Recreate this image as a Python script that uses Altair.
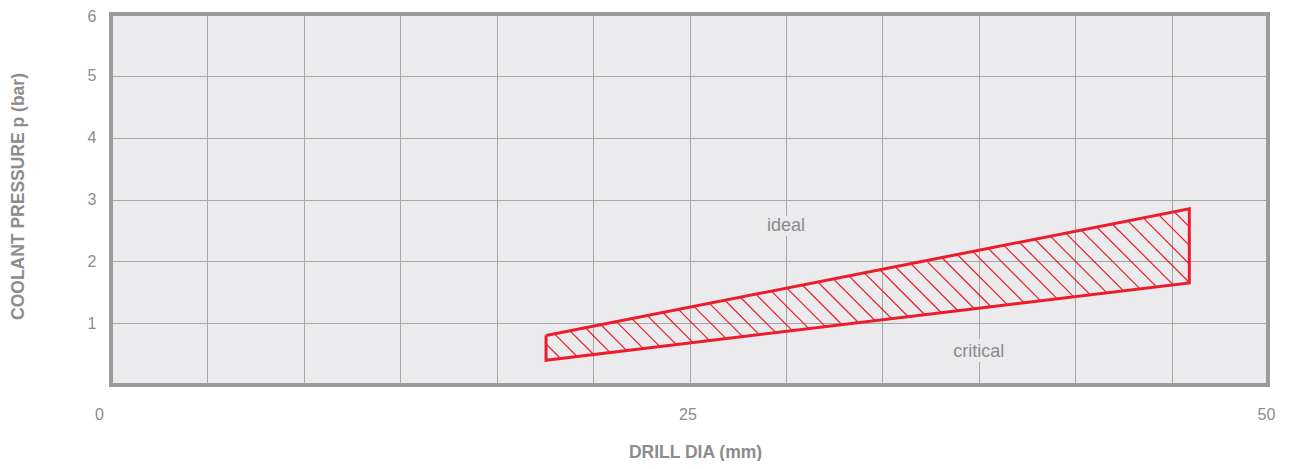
import altair as alt
import pandas as pd

# ---- data ----
x_tick_labels = [0, 25, 50]
y_tick_labels = [1, 2, 3, 4, 5, 6]
x_domain = [0, 50]
y_domain = [0, 6]
x_grid_divisions = 12

band_x = [18.8, 46.6]          # drill diameter (mm) at left / right end of band
band_upper = [0.8, 2.85]       # upper limit (bar)
band_lower = [0.4, 1.65]       # lower limit (bar)

region_labels = ["ideal", "critical"]
region_label_x = [29.17, 37.5]
region_label_y = [2.57, 0.53]

# ---- styles ----
RED = "#ec1c2d"
BG = "#ebebed"
GRID = "#a6a6a6"
BORDER = "#9b9b9b"
TEXT = "#8c8c8c"
FONT = "Liberation Sans"
HATCH_SLOPE = -0.3743   # data-space slope of the hatch lines (45 deg on screen)
HATCH_STEP = 0.30       # spacing of hatch lines (in intercept units)
HATCH_ANCHOR = 20.0

# ---- derived tables ----
x0, x1 = band_x
u0, u1 = band_upper
l0, l1 = band_lower
outline = pd.DataFrame({
    "x": [x0, x1, x1, x0, x0],
    "y": [u0, u1, l1, l0, u0],
    "o": [0, 1, 2, 3, 4],
})

st = (u1 - u0) / (x1 - x0)
sb = (l1 - l0) / (x1 - x0)
m = HATCH_SLOPE
c_min = l0 - m * x0
c_max = u1 - m * x1
c = HATCH_ANCHOR
while c > c_min:
    c -= HATCH_STEP
cs = []
while c < c_max:
    cs.append(c)
    c += HATCH_STEP
rows = []
for c in cs:
    xa = (c - u0 + st * x0) / (st - m)
    xb = (c - l0 + sb * x0) / (sb - m)
    xs = max(x0, xa)
    xe = min(x1, xb)
    if xe - xs > 1e-6:
        rows.append({"x": xs, "y": c + m * xs, "x2": xe, "y2": c + m * xe})
hatch = pd.DataFrame(rows)

labels_df = pd.DataFrame({"t": region_labels, "x": region_label_x, "y": region_label_y})
frame = pd.DataFrame({"x": [x_domain[0]], "x2": [x_domain[1]], "y": [y_domain[0]], "y2": [y_domain[1]]})

x_grid_values = [x_domain[1] * i / x_grid_divisions for i in range(x_grid_divisions + 1)]
y_grid_values = list(range(y_domain[0], y_domain[1] + 1))

xscale = alt.Scale(domain=x_domain, nice=False, zero=False)
yscale = alt.Scale(domain=y_domain, nice=False, zero=False)

label_test = " || ".join(f"abs(datum.value - {v}) < 0.01" for v in x_tick_labels)

x_axis = alt.Axis(
    values=x_grid_values,
    title="DRILL DIA (mm)",
    labelExpr=f"({label_test}) ? format(datum.value, 'd') : ''",
    labelOverlap=False, labelFlush=False,
    labelFont=FONT, labelFontSize=16, labelColor=TEXT,
    labelBaseline="middle", labelPadding=29,
    labelOffset={"condition": {"test": "datum.value == 0", "value": -12}, "value": -2},
    ticks=False, tickSize=0, domain=False,
    grid=True, gridColor=GRID, gridWidth=1,
    titleFont=FONT, titleFontSize=17.5, titleFontWeight="bold", titleColor=TEXT,
    titleX=584, titleY=67, titleAlign="center", titleBaseline="middle",
)
y_axis = alt.Axis(
    values=y_grid_values,
    title="COOLANT PRESSURE p (bar)",
    labelExpr="datum.value == 0 ? '' : format(datum.value, 'd')",
    labelOverlap=False, labelFlush=False,
    labelFont=FONT, labelFontSize=16, labelColor=TEXT,
    labelBaseline="middle", labelPadding=15,
    labelOffset={"condition": {"test": "datum.value == 6", "value": 2}, "value": 0},
    ticks=False, tickSize=0, domain=False,
    grid=True, gridColor=GRID, gridWidth=1,
    titleFont=FONT, titleFontSize=17.5, titleFontWeight="bold", titleColor=TEXT,
    titleX=-93, titleY=182, titleAngle=270, titleAlign="center", titleBaseline="middle",
)

base_axes = alt.Chart(frame).mark_rect(opacity=0).encode(
    x=alt.X("x:Q", scale=xscale, axis=x_axis),
    y=alt.Y("y:Q", scale=yscale, axis=y_axis),
)

hatch_layer = alt.Chart(hatch).mark_rule(color=RED, strokeWidth=1.2).encode(
    x=alt.X("x:Q", scale=xscale), y=alt.Y("y:Q", scale=yscale),
    x2="x2:Q", y2="y2:Q",
)

outline_layer = alt.Chart(outline).mark_line(
    color=RED, strokeWidth=3, strokeJoin="miter"
).encode(
    x=alt.X("x:Q", scale=xscale), y=alt.Y("y:Q", scale=yscale), order="o:Q"
)

halo = alt.Chart(labels_df).mark_text(
    font=FONT, fontSize=18, fill=BG, stroke=BG, strokeWidth=10,
    align="center", baseline="middle",
).encode(x=alt.X("x:Q", scale=xscale), y=alt.Y("y:Q", scale=yscale), text="t:N")

text = alt.Chart(labels_df).mark_text(
    font=FONT, fontSize=18, color=TEXT, align="center", baseline="middle",
).encode(x=alt.X("x:Q", scale=xscale), y=alt.Y("y:Q", scale=yscale), text="t:N")

border = alt.Chart(frame).mark_rect(
    fill="transparent", stroke=BORDER, strokeWidth=4
).encode(
    x=alt.X("x:Q", scale=xscale), x2="x2:Q",
    y=alt.Y("y:Q", scale=yscale), y2="y2:Q",
)

chart = alt.layer(
    base_axes, hatch_layer, outline_layer, halo, text, border
).properties(
    width=1157, height=371,
    background="white",
    autosize=alt.AutoSizeParams(type="none"),
    padding={"left": 103, "top": 6, "right": 10, "bottom": 76},
).configure_view(
    fill=BG, stroke=None
)

chart.save("out.html", embed_options={"renderer": "svg", "actions": False})
